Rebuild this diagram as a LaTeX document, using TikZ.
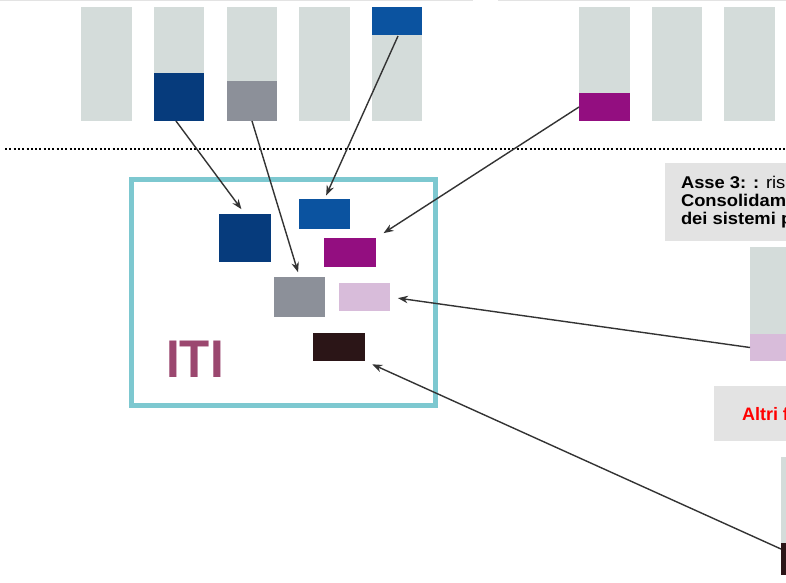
\documentclass[tikz,border=0pt]{standalone}
\usepackage{fontspec}
\setmainfont{Liberation Sans}
\usetikzlibrary{arrows.meta,calc}
\definecolor{barg}{HTML}{D4DCDA}
\definecolor{dblue}{HTML}{063B7C}
\definecolor{mblue}{HTML}{0B53A0}
\definecolor{mgray}{HTML}{8C9099}
\definecolor{mpurp}{HTML}{930E80}
\definecolor{lpink}{HTML}{D8BCDA}
\definecolor{dbrown}{HTML}{2B1517}
\definecolor{teal}{HTML}{7DC8D0}
\definecolor{itic}{HTML}{9B476F}
\definecolor{boxg}{HTML}{E3E3E3}
\definecolor{arr}{HTML}{333333}
\tikzset{
  blk/.style={rectangle, inner sep=0pt, outer sep=0pt, anchor=north west, draw=none},
  bar/.style={blk, fill=barg, minimum width=50pt, minimum height=114pt},
  arrowline/.style={draw=arr, line width=1.4pt, -{Stealth[length=10pt,width=7.5pt]}},
  txt/.style={inner sep=0pt, outer sep=0pt, anchor=base west, font=\fontsize{17}{17}\selectfont\bfseries}
}
\begin{document}
\begin{tikzpicture}[x=1pt,y=-1pt]
\clip (0,0) rectangle (786,582);
\fill[white] (0,0) rectangle (786,582);
% top thin lines
\draw[boxg, line width=1.2pt] (0,0.6) -- (473,0.6);
\draw[boxg, line width=1.2pt] (498,0.6) -- (786,0.6);
% top bars
\node[bar, minimum width=51pt] (bar1) at (81,7) {};
\node[bar] (bar2) at (154,7) {};
\node[blk, fill=dblue, minimum width=50pt, minimum height=48pt] (top2) at (154,73) {};
\node[bar] (bar3) at (227,7) {};
\node[blk, fill=mgray, minimum width=50pt, minimum height=40pt] (top3) at (227,81) {};
\node[bar, minimum width=51pt] (bar4) at (299,7) {};
\node[bar] (bar5) at (372,7) {};
\node[blk, fill=mblue, minimum width=50pt, minimum height=28pt] (top5) at (372,7) {};
\node[bar, minimum width=51pt] (bar6) at (579,7) {};
\node[blk, fill=mpurp, minimum width=51pt, minimum height=28pt] (top6) at (579,93) {};
\node[bar] (bar7) at (652,7) {};
\node[bar, minimum width=51pt] (bar8) at (724,7) {};
% dotted separator
\draw[black, line width=2.6pt, dash pattern=on 2pt off 2.3pt] (5,149) -- (786,149);
% ITI frame
\node[blk, draw=teal, line width=5pt, minimum width=303.5pt, minimum height=225.5pt] (iti) at (131.5,179.5) {};
\node[inner sep=0pt, text=itic, font=\fontsize{53}{53}\selectfont\bfseries, anchor=base] (itit) at (195,377) {\scalebox{0.93}[1]{ITI}};
% inner boxes
\node[blk, fill=dblue, minimum width=52pt, minimum height=48pt] (sq1) at (219,214) {};
\node[blk, fill=mblue, minimum width=51pt, minimum height=30pt] (b2) at (299,199) {};
\node[blk, fill=mpurp, minimum width=52pt, minimum height=29pt] (p3) at (324,238) {};
\node[blk, fill=mgray, minimum width=51pt, minimum height=40pt] (g4) at (274,277) {};
\node[blk, fill=lpink, minimum width=51pt, minimum height=28pt] (pk5) at (339,283) {};
\node[blk, fill=dbrown, minimum width=52pt, minimum height=28pt] (br6) at (313,333) {};
% right text box
\node[blk, fill=boxg, minimum width=125pt, minimum height=78pt] (asse) at (665,163) {};
\node[txt] (asse1) at (681,188) {\scalebox{1.08}[1]{Asse 3: : {\mdseries risu}}};
\node[txt] (asse2) at (681,206) {\scalebox{1.08}[1]{Consolidam}};
\node[txt] (asse3) at (681,224) {\scalebox{1.08}[1]{dei sistemi p}};
% right bar with pink
\node[blk, fill=barg, minimum width=40pt, minimum height=114pt] (rbar) at (750,247) {};
\node[blk, fill=lpink, minimum width=40pt, minimum height=27pt] (rpink) at (750,334) {};
% Altri box
\node[blk, fill=boxg, minimum width=76pt, minimum height=55pt] (altri) at (714,386) {};
\node[txt, text=red, font=\fontsize{18}{18}\selectfont\bfseries] (altrit) at (742,420) {Altri f};
% bottom right bar
\node[blk, fill=barg, minimum width=10pt, minimum height=118pt] (bbar) at (781,457) {};
\node[blk, fill=dbrown, minimum width=10pt, minimum height=32pt] (bdark) at (781,543) {};
% arrows
\draw[arrowline, shorten >=6pt] ($(top2.south)+(-3,0)$) -- (sq1.north);
\draw[arrowline, shorten >=5pt] ($(top3.south)+(0,0)$) -- (g4.north);
\draw[arrowline, shorten >=4pt] ($(top5.south)+(1,1)$) -- (b2.north);
\draw[arrowline, shorten >=9pt] ($(top6.west)+(0,0)$) -- (p3.north east);
\draw[arrowline, shorten >=8pt] (rpink.west) -- (pk5.east);
\draw[arrowline, shorten >=8pt] ($(bdark.north west)+(0,6)$) -- (br6.south east);
\end{tikzpicture}
\end{document}
